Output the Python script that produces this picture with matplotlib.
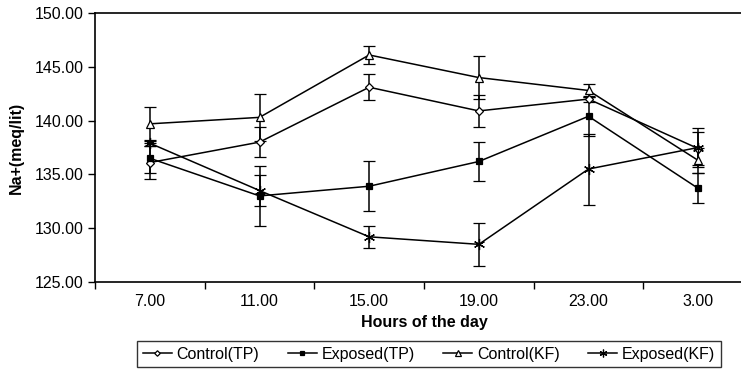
import numpy as np
import matplotlib.pyplot as plt

plt.rcParams['font.family'] = ['Liberation Sans', 'DejaVu Sans']

# data
hours = ["7.00", "11.00", "15.00", "19.00", "23.00", "3.00"]

control_tp = [136.1, 138.0, 143.1, 140.9, 142.0, 137.4]
control_tp_err = [1.5, 1.4, 1.2, 1.5, 0.3, 1.5]

exposed_tp = [136.5, 133.0, 133.9, 136.2, 140.4, 133.7]
exposed_tp_err = [1.4, 2.8, 2.3, 1.8, 1.8, 1.4]

control_kf = [139.7, 140.3, 146.1, 144.0, 142.8, 136.3]
control_kf_err = [1.6, 2.2, 0.8, 2.0, 0.6, 1.2]

exposed_kf = [137.9, 133.5, 129.2, 128.5, 135.5, 137.5]
exposed_kf_err = [0.3, 1.4, 1.0, 2.0, 3.3, 1.8]

fig = plt.figure(figsize=(7.41, 3.72), dpi=100)
ax = fig.add_axes([95 / 741, 1 - 282 / 372, (753 - 95) / 741, (282 - 13) / 372])

x = np.arange(len(hours))
series = [
    ("Control(TP)", control_tp, control_tp_err, dict(marker="D", mfc="white", ms=4)),
    ("Exposed(TP)", exposed_tp, exposed_tp_err, dict(marker="s", mfc="black", ms=5)),
    ("Control(KF)", control_kf, control_kf_err, dict(marker="^", mfc="white", ms=6)),
    ("Exposed(KF)", exposed_kf, exposed_kf_err, dict(marker=(6, 2, 0), mfc="black", ms=8)),
]
handles = []
for name, vals, err, style in series:
    c = ax.errorbar(x, vals, yerr=err, color="black", lw=1.1, mec="black", mew=0.9,
                    ecolor="black", elinewidth=1.1, capsize=4, capthick=1.1,
                    label=name, **style)
    handles.append(c.lines[0])

ax.set_xlim(-0.5, 5.5)
ax.set_ylim(125, 150)
ax.set_yticks(np.arange(125, 151, 5))
ax.set_yticklabels([f"{v:.2f}" for v in np.arange(125, 151, 5)], fontsize=11.5)
ax.set_xticks(x)
ax.set_xticklabels(hours, fontsize=11.5)
ax.set_xticks(np.arange(-0.5, 5.6, 1), minor=True)
ax.tick_params(axis="x", which="major", length=0, pad=9)
ax.tick_params(axis="x", which="minor", length=5, width=1, direction="out")
ax.tick_params(axis="y", length=5, width=1, direction="out", pad=3)

for s in ax.spines.values():
    s.set_linewidth(1.2)
ax.spines["right"].set_visible(False)

ax.set_xlabel("Hours of the day", fontsize=11.5, fontweight="bold", labelpad=4)
ax.set_ylabel("Na+(meq/lit)", fontsize=11.5, fontweight="bold", labelpad=8)

leg = fig.legend(handles, [s[0] for s in series], loc="center",
                 bbox_to_anchor=(429 / 741, 1 - 354 / 372), ncol=4,
                 fontsize=11.5, frameon=True, fancybox=False, edgecolor="black",
                 handlelength=1.8, handletextpad=0.3, columnspacing=1.8,
                 borderpad=0.35, markerscale=0.7)
leg.get_frame().set_linewidth(1.0)

fig.savefig("out.png", dpi=100)
